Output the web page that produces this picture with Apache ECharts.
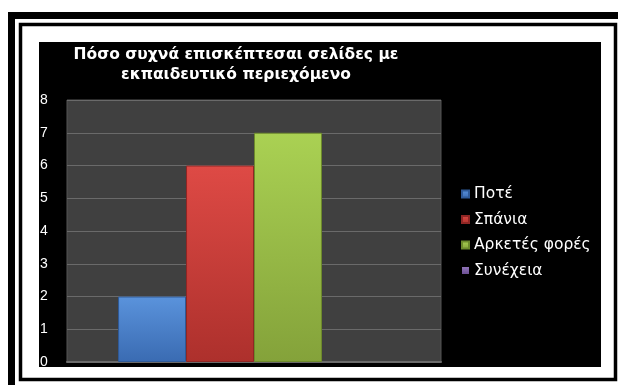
<!DOCTYPE html>
<html>
<head>
<meta charset="utf-8">
<script src="https://cdn.jsdelivr.net/npm/echarts@6/dist/echarts.min.js"></script>
<style>
  html, body { margin: 0; padding: 0; background: #fff; }
  #chart { width: 618px; height: 385px; }
</style>
</head>
<body>
<div id="chart"></div>
<script>
// Survey answers: how often educational pages are visited
const categories = [''];
const seriesNames = ['Ποτέ', 'Σπάνια', 'Αρκετές φορές', 'Συνέχεια'];
const seriesValues = [2, 6, 7, 0];
const yTicks = [0, 1, 2, 3, 4, 5, 6, 7, 8];
const titleLines = ['Πόσο συχνά επισκέπτεσαι σελίδες με', 'εκπαιδευτικό περιεχόμενο'];

// top / bottom shade for each bar
const barShades = [
  ['#5a93dc', '#3a6bb2'],
  ['#de4a45', '#ad302c'],
  ['#aad153', '#84a23a'],
  ['#9074b8', '#6c4f94']
];
const barEdges = ['#2f5a98', '#8f2624', '#6d8a2c', '#5a4080'];

const chart = echarts.init(document.getElementById('chart'), null, { renderer: 'canvas' });

const series = seriesNames.map((name, i) => ({
  name: name,
  type: 'bar',
  data: [seriesValues[i]],
  barGap: '0%',
  barCategoryGap: '27.3%',
  itemStyle: {
    color: new echarts.graphic.LinearGradient(0, 0, 0, 1, [
      { offset: 0, color: barShades[i][0] },
      { offset: 1, color: barShades[i][1] }
    ]),
    borderColor: barEdges[i],
    borderWidth: seriesValues[i] > 0 ? 1 : 0
  },
  emphasis: { disabled: true }
}));

chart.setOption({
  backgroundColor: '#ffffff',
  animation: false,
  graphic: [
    // outer heavy frame (left and top)
    { type: 'rect', z: -5, shape: { x: 8, y: 12, width: 7, height: 380 }, style: { fill: '#000' } },
    { type: 'rect', z: -5, shape: { x: 8, y: 12, width: 620, height: 7 }, style: { fill: '#000' } },
    // inner thin frame
    { type: 'rect', z: -5, shape: { x: 20.5, y: 24.5, width: 595, height: 355 },
      style: { fill: 'none', stroke: '#000', lineWidth: 3.5 } },
    // black chart panel
    { type: 'rect', z: -4, shape: { x: 39, y: 42, width: 562, height: 325 }, style: { fill: '#000' } },
    // title
    { type: 'text', z: 10, x: 236, y: 45, style: {
        text: titleLines.join('\n'), align: 'center', verticalAlign: 'top',
        fill: '#ffffff', font: 'bold 15.5px "DejaVu Sans"', lineHeight: 20
      } }
  ],
  legend: {
    orient: 'vertical',
    left: 461,
    top: 186,
    padding: 0,
    icon: 'rect',
    itemWidth: 7,
    itemHeight: 7,
    itemGap: 9.5,
    selectedMode: false,
    data: seriesNames,
    textStyle: { color: '#ffffff', fontFamily: 'DejaVu Sans', fontSize: 15.5, lineHeight: 14.5 }
  },
  grid: {
    left: 67, right: 177, top: 100, bottom: 23,
    show: true, backgroundColor: '#404040', borderColor: '#555555', borderWidth: 1
  },
  xAxis: {
    type: 'category',
    data: categories,
    axisLine: { show: true, lineStyle: { color: '#6a6a6a', width: 2 } },
    axisTick: { show: false },
    axisLabel: { show: false }
  },
  yAxis: {
    type: 'value',
    min: yTicks[0],
    max: yTicks[yTicks.length - 1],
    interval: 1,
    axisLine: { show: false },
    axisTick: { show: false },
    axisLabel: {
      color: '#ffffff', fontFamily: 'Liberation Sans', fontSize: 14,
      align: 'left', margin: 27
    },
    splitLine: { lineStyle: { color: '#6a6a6a', width: 1 } }
  },
  series: series
});
</script>
</body>
</html>
